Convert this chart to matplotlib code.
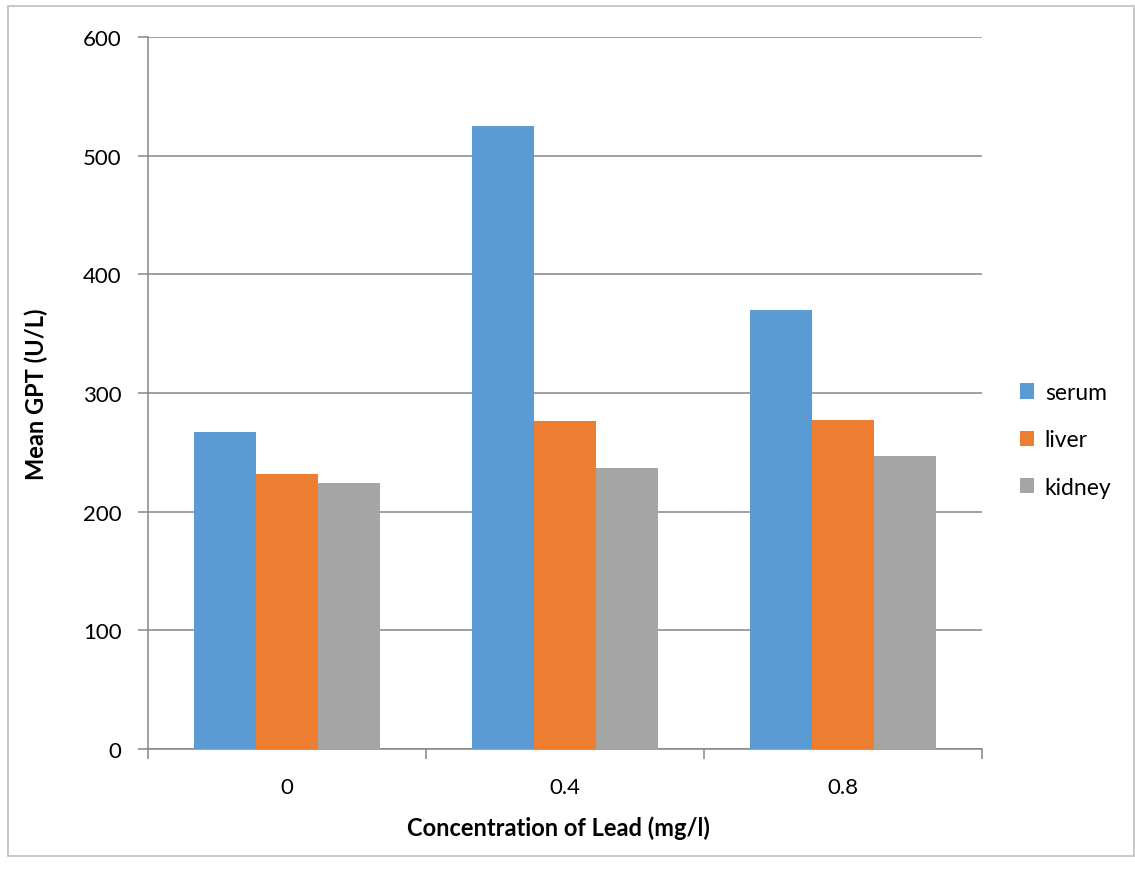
import matplotlib
matplotlib.use("Agg")
import matplotlib.pyplot as plt
import numpy as np
from matplotlib.patches import Rectangle

categories = ["0", "0.4", "0.8"]
series_names = ["serum", "liver", "kidney"]
serum = [267, 525, 370]
liver = [232, 276, 277]
kidney = [224, 237, 247]
colors = ["#5B9BD5", "#ED7D31", "#A5A5A5"]
yticks = [0, 100, 200, 300, 400, 500, 600]

plt.rcParams['font.family'] = ['Lato', 'DejaVu Sans']

fig = plt.figure(figsize=(11.35, 8.7), dpi=100)
ax = fig.add_axes([148/1135, 1-750/870, (982-148)/1135, (750-38)/870])

# outer chart border
fig.patches.append(Rectangle((8/1135, 1-857/870), (1134-8)/1135, (857-7)/870,
                             transform=fig.transFigure, fill=False,
                             edgecolor="#BFBFBF", linewidth=1.2))

x = np.arange(len(categories))
w = 0.223
for i, (vals, name) in enumerate(zip([serum, liver, kidney], series_names)):
    ax.bar(x + (i - 1) * w, vals, width=w, color=colors[i], label=name, zorder=3,
           edgecolor="none")

ax.set_xlim(-0.5, 2.5)
ax.set_ylim(0, 600)
ax.set_yticks(yticks)
ax.yaxis.grid(True, color="#868686", linewidth=1.1, zorder=0)
ax.set_xticks([-0.5, 0.5, 1.5, 2.5], minor=False)
ax.set_xticklabels([])
ax.set_xticks(x, minor=True)
ax.set_xticklabels(categories, minor=True, fontsize=16)
ax.tick_params(axis='x', which='major', length=7, color="#868686", width=1.1)
ax.tick_params(axis='x', which='minor', length=0, pad=20)
ax.tick_params(axis='y', length=7, color="#868686", width=1.1, labelsize=16, pad=12)

for s in ["top", "right"]:
    ax.spines[s].set_visible(False)
for s in ["left", "bottom"]:
    ax.spines[s].set_color("#868686")
    ax.spines[s].set_linewidth(1.1)

ax.set_xlabel("Concentration of Lead (mg/l)", fontsize=17, fontweight="bold")
ax.set_ylabel("Mean GPT (U/L)", fontsize=17, fontweight="bold")
ax.xaxis.set_label_coords((558 - 148) / 834, (750 - 828) / 712)
ax.yaxis.set_label_coords((36 - 148) / 834, 0.5)
ax.xaxis.label.set_va("center")
ax.yaxis.label.set_va("center")

leg = ax.legend(loc="center left", bbox_to_anchor=(1.045, (750 - 441) / 712), frameon=False,
                fontsize=16.5, handlelength=0.65, handleheight=0.65, labelspacing=1.15,
                handletextpad=0.45, borderaxespad=0, borderpad=0)

fig.savefig("out.png", dpi=100)
